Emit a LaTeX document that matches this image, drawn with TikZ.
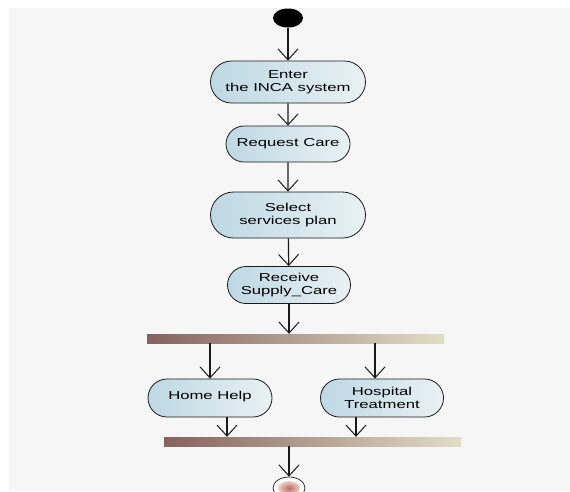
\documentclass[tikz,border=0pt]{standalone}
\usepackage{fontspec}
\setmainfont{Liberation Sans}[FakeStretch=1.45]
\usetikzlibrary{arrows.meta,shapes.misc,shapes.geometric}
\definecolor{bggray}{HTML}{F6F6F6}
\definecolor{actL}{HTML}{BED8E3}
\definecolor{actR}{HTML}{E9F1F4}
\definecolor{barL}{HTML}{85625F}
\definecolor{barR}{HTML}{E2DEC6}
\definecolor{lineC}{HTML}{1A1A1A}
\tikzset{
  act/.style={rounded rectangle, draw=lineC, line width=0.8pt, inner sep=0pt,
    left color=actL, right color=actR, align=center,
    font=\fontsize{11.5}{13.5}\selectfont},
  syncbar/.style={rectangle, draw=none, inner sep=0pt, minimum height=9pt,
    left color=barL, right color=barR},
  arr/.style={lineC, line width=1.2pt,
    -{Straight Barb[length=11pt,width=20pt,line width=1pt]}}
}
\begin{document}
\begin{tikzpicture}[x=1pt,y=-1pt]
\useasboundingbox (0,0) rectangle (570,491);
\fill[white] (0,0) rectangle (570,491);
\fill[bggray] (9,8) rectangle (570,491);

\node[ellipse, fill=black, minimum width=30pt, minimum height=19pt, inner sep=0pt] (start) at (288,18) {};
\node[act, minimum width=155pt, minimum height=42pt] (enter) at (288,82) {Enter\\the INCA system};
\node[act, minimum width=124pt, minimum height=36pt] (req) at (288,144) {Request Care};
\node[act, minimum width=155pt, minimum height=46pt] (sel) at (288,215) {Select\\services plan};
\node[act, minimum width=123pt, minimum height=37pt] (rec) at (289,285) {Receive\\Supply\_Care};
\node[syncbar, minimum width=297pt] (fork) at (295.5,338.5) {};
\node[act, minimum width=124pt, minimum height=38pt] (home) at (210,398) {\raisebox{5pt}{Home Help}};
\node[act, minimum width=123pt, minimum height=38pt] (hosp) at (382,398) {Hospital\\Treatment};
\node[syncbar, minimum width=297pt] (join) at (312.5,441.5) {};
\node[ellipse, draw=lineC, line width=0.7pt, fill=white, minimum width=32pt, minimum height=22pt, inner sep=0pt] (end) at (289,488) {};
\node[ellipse, inner color=barL!70!red!80, outer color=barR!60!pink, minimum width=22pt, minimum height=14pt, inner sep=0pt] (endin) at (end.center) {};

\draw[arr] (start) -- (enter);
\draw[arr] (enter) -- (req);
\draw[arr] (req) -- (sel);
\draw[arr] (sel) -- (rec);
\draw[arr] (rec.south) -- (rec.south |- fork.north);
\draw[arr] (home.north |- fork.south) -- (home.north);
\draw[arr] ([xshift=-7pt]hosp.north |- fork.south) -- ([xshift=-7pt]hosp.north);
\draw[arr] ([xshift=17pt]home.south) -- ([xshift=17pt]home.south |- join.north);
\draw[arr] ([xshift=-26pt]hosp.south) -- ([xshift=-26pt]hosp.south |- join.north);
\draw[arr] (end.north |- join.south) -- (end.north);
\end{tikzpicture}
\end{document}
